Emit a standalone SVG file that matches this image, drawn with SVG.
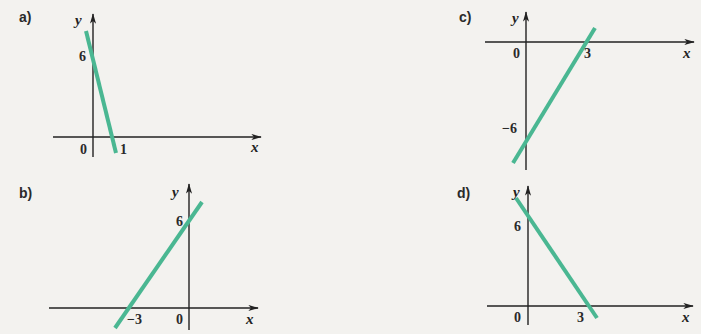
<svg xmlns="http://www.w3.org/2000/svg" width="701" height="334" viewBox="0 0 701 334">
<defs>
<marker id="ah" viewBox="0 0 12 8" refX="11" refY="4" markerWidth="11" markerHeight="7" markerUnits="userSpaceOnUse" orient="auto">
<path d="M0,0.5 L12,4 L0,7.5 L3,4 Z" fill="#222"/>
</marker>
</defs>
<style>
.axis{stroke:#222;stroke-width:1.4;fill:none}
.line{stroke:#4ab792;stroke-width:4;stroke-linecap:butt}
.lbl{font-family:"Liberation Sans",Arial,sans-serif;font-size:14px;font-weight:bold;fill:#2a2a2a}
.var{font-family:"Liberation Serif","Times New Roman",serif;font-size:15px;font-style:italic;font-weight:bold;fill:#222}
.num{font-family:"Liberation Serif","Times New Roman",serif;font-size:14px;font-weight:bold;fill:#2a2a2a}
</style>
<rect width="701" height="334" fill="#f3f2ef"/>
<g id="panel-a">
<text class="lbl" x="19" y="22">a)</text>
<g class="connectors">
<line class="axis" x1="93" y1="157" x2="93" y2="14" marker-end="url(#ah)"/>
<line class="axis" x1="53" y1="137" x2="261" y2="137" marker-end="url(#ah)"/>
</g>
<line class="line" x1="86" y1="31" x2="116" y2="153"/>
<text class="var" x="75" y="25">y</text>
<text class="var" x="251" y="152">x</text>
<text class="num" x="79" y="61">6</text>
<text class="num" x="80" y="154">0</text>
<text class="num" x="120" y="154">1</text>
</g>
<g id="panel-b">
<text class="lbl" x="19" y="198">b)</text>
<g class="connectors">
<line class="axis" x1="189" y1="330" x2="189" y2="184" marker-end="url(#ah)"/>
<line class="axis" x1="49" y1="308" x2="258" y2="308" marker-end="url(#ah)"/>
</g>
<line class="line" x1="115" y1="328" x2="202" y2="202"/>
<text class="var" x="172" y="197">y</text>
<text class="var" x="246" y="324">x</text>
<text class="num" x="176" y="226">6</text>
<text class="num" x="127" y="324">−3</text>
<text class="num" x="176" y="324">0</text>
</g>
<g id="panel-c">
<text class="lbl" x="459" y="22">c)</text>
<g class="connectors">
<line class="axis" x1="526" y1="170" x2="526" y2="12" marker-end="url(#ah)"/>
<line class="axis" x1="485" y1="42" x2="694" y2="42" marker-end="url(#ah)"/>
</g>
<line class="line" x1="513" y1="163" x2="595" y2="28"/>
<text class="var" x="512" y="23">y</text>
<text class="var" x="683" y="58">x</text>
<text class="num" x="513" y="58">0</text>
<text class="num" x="584" y="58">3</text>
<text class="num" x="502" y="133">−6</text>
</g>
<g id="panel-d">
<text class="lbl" x="457" y="198">d)</text>
<g class="connectors">
<line class="axis" x1="528" y1="325" x2="528" y2="186" marker-end="url(#ah)"/>
<line class="axis" x1="487" y1="306" x2="693" y2="306" marker-end="url(#ah)"/>
</g>
<line class="line" x1="516" y1="198" x2="597" y2="318"/>
<text class="var" x="513" y="197">y</text>
<text class="var" x="682" y="322">x</text>
<text class="num" x="514" y="231">6</text>
<text class="num" x="514" y="322">0</text>
<text class="num" x="577" y="322">3</text>
</g>
</svg>
